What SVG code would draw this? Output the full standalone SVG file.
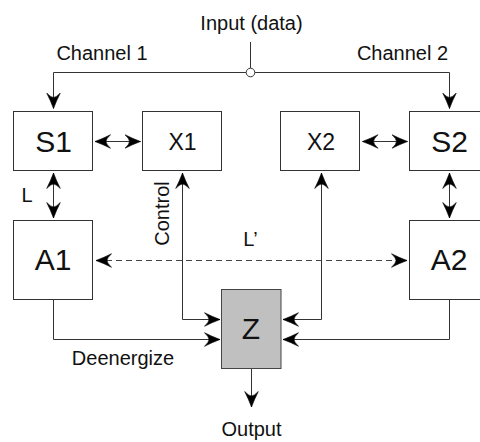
<svg xmlns="http://www.w3.org/2000/svg" width="480" height="442" viewBox="0 0 480 442">
<style>
.box{fill:#fff;stroke:#333;stroke-width:1}
.zbox{fill:#c0c0c0;stroke:#444;stroke-width:1}
.ln{fill:none;stroke:#333;stroke-width:1}
.dash{fill:none;stroke:#444;stroke-width:1;stroke-dasharray:6,4}
.t{font-family:"Liberation Sans",Arial,Helvetica,sans-serif;font-size:20px;fill:#111}
.big{font-family:"Liberation Sans",Arial,Helvetica,sans-serif;font-size:30px;fill:#111;text-anchor:middle}
.mid{font-family:"Liberation Sans",Arial,Helvetica,sans-serif;font-size:23px;fill:#111;text-anchor:middle}
</style>
<defs>
<marker id="ah" viewBox="-16 -8 17 16" refX="0" refY="0" markerWidth="17" markerHeight="16" markerUnits="userSpaceOnUse" orient="auto-start-reverse">
<path d="M0,0 Q-8,-3 -15.5,-6.8 Q-11,-2.5 -11,0 Q-11,2.5 -15.5,6.8 Q-8,3 0,0 Z" fill="#000" stroke="#000" stroke-width="0.6" stroke-linejoin="round"/>
</marker>
</defs>
<g id="connectors">
<line class="ln" x1="250.5" y1="42" x2="250.5" y2="68"/>
<path class="ln" d="M246.2,72.5 H53.5 V108.5" marker-end="url(#ah)"/>
<path class="ln" d="M254.8,72.5 H449.5 V108.5" marker-end="url(#ah)"/>
<circle cx="250.5" cy="72.5" r="4.3" fill="#fff" stroke="#333" stroke-width="1"/>
<line class="ln" x1="95" y1="141.5" x2="140.5" y2="141.5" marker-start="url(#ah)" marker-end="url(#ah)"/>
<line class="ln" x1="362.5" y1="141.5" x2="407.5" y2="141.5" marker-start="url(#ah)" marker-end="url(#ah)"/>
<line class="ln" x1="53.5" y1="173" x2="53.5" y2="218" marker-start="url(#ah)" marker-end="url(#ah)"/>
<line class="ln" x1="449.5" y1="173" x2="449.5" y2="218" marker-start="url(#ah)" marker-end="url(#ah)"/>
<line class="dash" x1="96" y1="260.5" x2="407" y2="260.5" marker-start="url(#ah)" marker-end="url(#ah)"/>
<path class="ln" d="M182.5,173 V319.5 H220" marker-start="url(#ah)" marker-end="url(#ah)"/>
<path class="ln" d="M321.5,173 V319.5 H283" marker-start="url(#ah)" marker-end="url(#ah)"/>
<path class="ln" d="M53.5,299 V339.5 H220" marker-end="url(#ah)"/>
<path class="ln" d="M449.5,299 V339.5 H283" marker-end="url(#ah)"/>
<line class="ln" x1="251.5" y1="368.5" x2="251.5" y2="407" marker-end="url(#ah)"/>
</g>
<g id="S1"><rect class="box" x="13.5" y="111.5" width="79" height="59"/><text class="big" x="53.5" y="151.5">S1</text></g>
<g id="X1"><rect class="box" x="142.5" y="111.5" width="79" height="59"/><text class="mid" x="182.5" y="150">X1</text></g>
<g id="X2"><rect class="box" x="280.5" y="111.5" width="79" height="59"/><text class="mid" x="321" y="150">X2</text></g>
<g id="S2"><rect class="box" x="409.5" y="111.5" width="79" height="59"/><text class="big" x="449.5" y="151.5">S2</text></g>
<g id="A1"><rect class="box" x="13.5" y="220.5" width="79" height="79"/><text class="big" x="53" y="269.5">A1</text></g>
<g id="A2"><rect class="box" x="409.5" y="220.5" width="79" height="79"/><text class="big" x="449" y="269.5">A2</text></g>
<g id="Z"><rect class="zbox" x="221.5" y="289.5" width="59.5" height="79"/><text class="big" x="251" y="338.5">Z</text></g>
<g id="labels">
<text class="t" x="251.5" y="29.5" text-anchor="middle">Input (data)</text>
<text class="t" x="102" y="59.5" text-anchor="middle">Channel 1</text>
<text class="t" x="402.5" y="59.5" text-anchor="middle">Channel 2</text>
<text class="t" x="21.5" y="201.5">L</text>
<text class="t" x="250.5" y="246" text-anchor="middle">L’</text>
<text class="t" transform="translate(168.5,213.5) rotate(-90)" text-anchor="middle">Control</text>
<text class="t" x="123" y="365" text-anchor="middle">Deenergize</text>
<text class="t" x="251.5" y="436" text-anchor="middle">Output</text>
</g>
</svg>
